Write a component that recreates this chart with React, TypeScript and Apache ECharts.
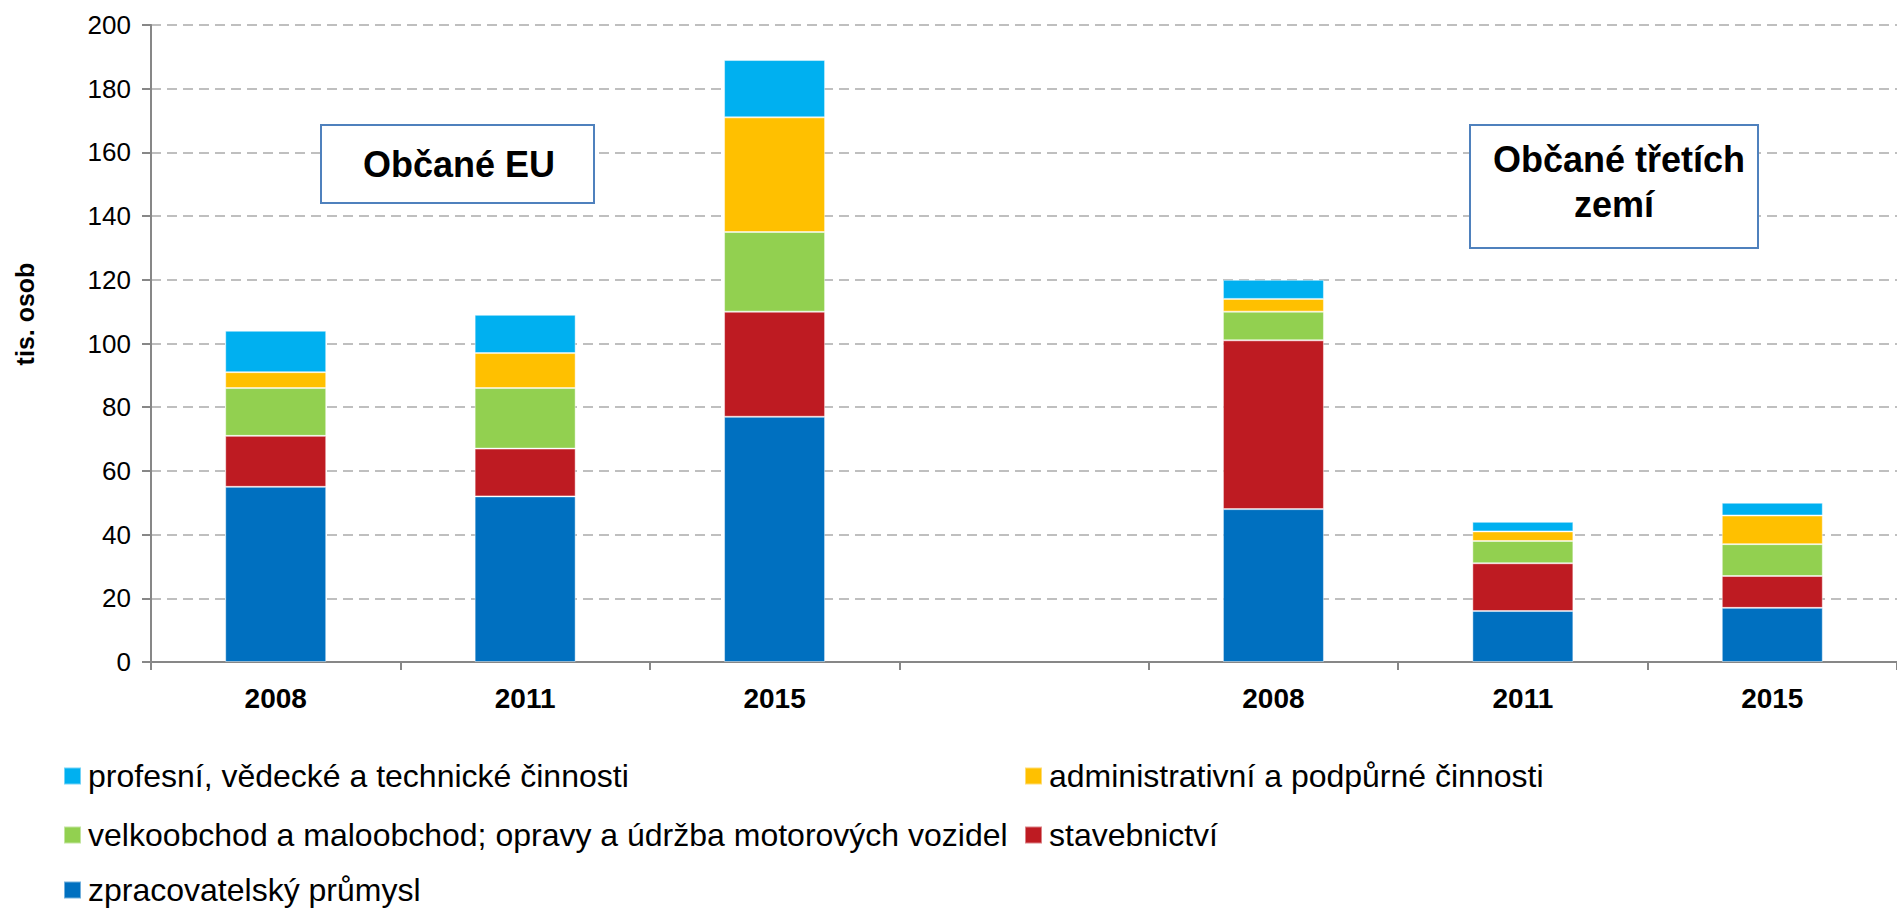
import React, { useEffect, useRef } from "react";
import * as echarts from "echarts";

const categories = ["2008", "2011", "2015", "", "2008", "2011", "2015"];
const seriesNames = [
  "zpracovatelský průmysl",
  "stavebnictví",
  "velkoobchod a maloobchod; opravy a údržba motorových vozidel",
  "administrativní a podpůrné činnosti",
  "profesní, vědecké a technické činnosti",
];
const zpracovatelsky = [55, 52, 77, null, 48, 16, 17];
const stavebnictvi = [16, 15, 33, null, 53, 15, 10];
const velkoobchod = [15, 19, 25, null, 9, 7, 10];
const administrativni = [5, 11, 36, null, 4, 3, 9];
const profesni = [13, 12, 18, null, 6, 3, 4];
const seriesValues = [zpracovatelsky, stavebnictvi, velkoobchod, administrativni, profesni];
const colors = ["#0070C0", "#BE1B22", "#92D050", "#FFC000", "#00B0F0"];
const yTicks = { min: 0, max: 200, interval: 20 };
const yAxisName = "tis. osob";
const boxLabels = ["Občané EU", "Občané třetích", "zemí"];

const FONT = "'Liberation Sans', Arial, sans-serif";

export default function App() {
  const ref = useRef<HTMLDivElement>(null);
  useEffect(() => {
    document.body.style.margin = "0";
    const chart = echarts.init(ref.current!, null, { renderer: "svg" });
    const legendLayout = [
      { name: seriesNames[4], left: 63, top: 760 },
      { name: seriesNames[3], left: 1024, top: 760 },
      { name: seriesNames[2], left: 63, top: 819 },
      { name: seriesNames[1], left: 1024, top: 819 },
      { name: seriesNames[0], left: 63, top: 874 },
    ];
    chart.setOption({
      animation: false,
      textStyle: { fontFamily: FONT },
      grid: { left: 151, top: 25, right: -11, bottom: 249, containLabel: false },
      legend: legendLayout.map((l) => ({
        data: [l.name],
        left: l.left,
        top: l.top,
        padding: 0,
        icon: "rect",
        itemWidth: 17,
        itemHeight: 17,
        selectedMode: false,
        textStyle: {
          fontSize: 32,
          lineHeight: 30,
          color: "#000",
          fontFamily: FONT,
          padding: [0, 0, 0, 2],
        },
      })),
      xAxis: {
        type: "category",
        data: categories,
        axisLine: { lineStyle: { color: "#878787", width: 2 } },
        axisTick: { show: true, length: 8, lineStyle: { color: "#878787", width: 2 } },
        axisLabel: { fontSize: 28, fontWeight: "bold", color: "#000", margin: 22, fontFamily: FONT },
      },
      yAxis: {
        type: "value",
        min: yTicks.min,
        max: yTicks.max,
        interval: yTicks.interval,
        axisLine: { show: true, lineStyle: { color: "#878787", width: 2 } },
        axisTick: { show: true, length: 9, lineStyle: { color: "#878787", width: 2 } },
        axisLabel: { fontSize: 26, color: "#000", margin: 20, fontFamily: FONT },
        splitLine: { lineStyle: { color: "#BFBFBF", width: 2, type: [10, 6] } },
      },
      series: seriesNames.map((name, i) => ({
        name,
        type: "bar",
        stack: "total",
        barWidth: 101,
        data: seriesValues[i],
        itemStyle: { color: colors[i], borderColor: "rgba(255,255,255,0.45)", borderWidth: 1 },
      })),
      graphic: [
        {
          type: "text",
          x: 25,
          y: 314,
          rotation: Math.PI / 2,
          style: {
            text: yAxisName,
            font: `bold 25px ${FONT}`,
            fill: "#000",
            textAlign: "center",
            textVerticalAlign: "middle",
          },
        },
        {
          type: "rect",
          shape: { x: 321, y: 125, width: 273, height: 78 },
          style: { fill: "#fff", stroke: "#4F81BD", lineWidth: 2 },
          z: 10,
        },
        {
          type: "text",
          x: 459,
          y: 164,
          z: 11,
          style: {
            text: boxLabels[0],
            font: `bold 36px ${FONT}`,
            fill: "#000",
            textAlign: "center",
            textVerticalAlign: "middle",
          },
        },
        {
          type: "rect",
          shape: { x: 1470, y: 125, width: 288, height: 123 },
          style: { fill: "#fff", stroke: "#4F81BD", lineWidth: 2 },
          z: 10,
        },
        {
          type: "text",
          x: 1619,
          y: 159,
          z: 11,
          style: {
            text: boxLabels[1],
            font: `bold 36px ${FONT}`,
            fill: "#000",
            textAlign: "center",
            textVerticalAlign: "middle",
          },
        },
        {
          type: "text",
          x: 1614,
          y: 204,
          z: 11,
          style: {
            text: boxLabels[2],
            font: `bold 36px ${FONT}`,
            fill: "#000",
            textAlign: "center",
            textVerticalAlign: "middle",
          },
        },
      ],
    });
    return () => chart.dispose();
  }, []);
  return <div ref={ref} style={{ width: 1897, height: 911 }} />;
}
